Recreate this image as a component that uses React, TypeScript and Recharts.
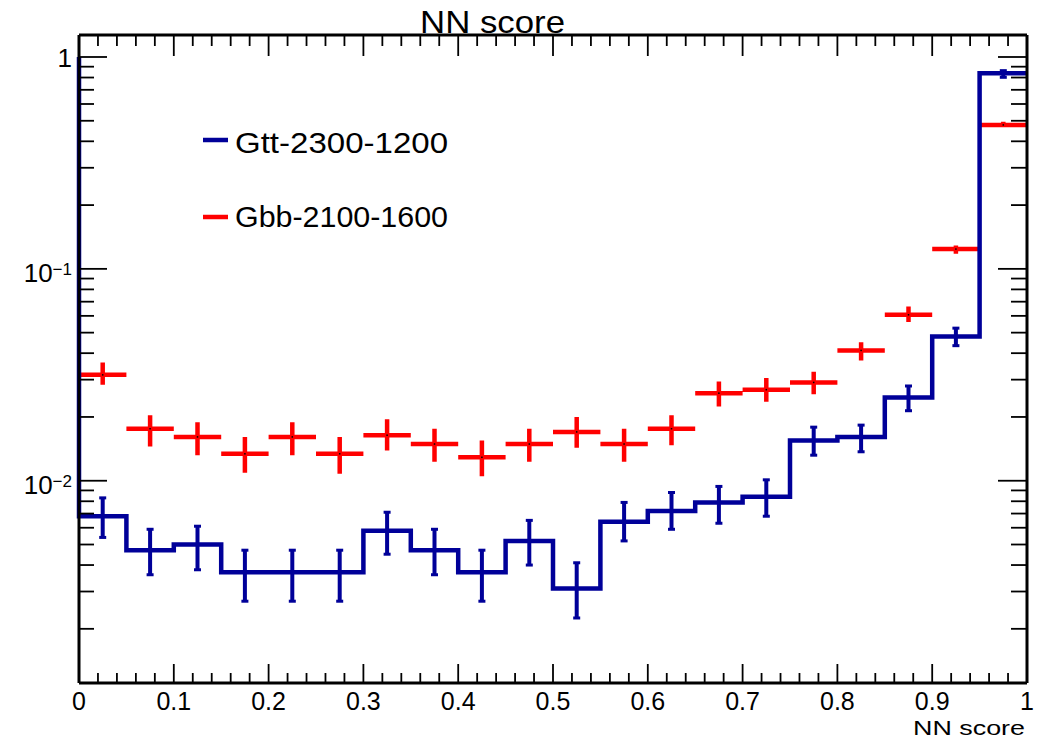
import { ComposedChart, Line, Scatter, XAxis, YAxis } from "recharts";

// NN score histograms, 20 bins of width 0.05
const binLow = [0, 0.05, 0.1, 0.15, 0.2, 0.25, 0.3, 0.35, 0.4, 0.45, 0.5, 0.55, 0.6, 0.65, 0.7, 0.75, 0.8, 0.85, 0.9, 0.95];
const binCenter = [0.025, 0.075, 0.125, 0.175, 0.225, 0.275, 0.325, 0.375, 0.425, 0.475, 0.525, 0.575, 0.625, 0.675, 0.725, 0.775, 0.825, 0.875, 0.925, 0.975];
const binWidth = 0.05;

const gttLeftEdgeTop = 1.0;
const gttValue = [0.0068, 0.0047, 0.005, 0.0037, 0.0037, 0.0037, 0.0058, 0.0047, 0.0037, 0.0052, 0.0031, 0.0064, 0.0072, 0.0079, 0.0084, 0.0155, 0.0161, 0.0247, 0.048, 0.838];
const gttLow = [0.0054, 0.0036, 0.0038, 0.0027, 0.0027, 0.0027, 0.0045, 0.0036, 0.0027, 0.004, 0.00225, 0.0052, 0.0059, 0.0063, 0.0068, 0.0132, 0.0137, 0.0214, 0.0434, 0.802];
const gttHigh = [0.0083, 0.0059, 0.0061, 0.0047, 0.0047, 0.0047, 0.0071, 0.0059, 0.0047, 0.0065, 0.0041, 0.0079, 0.0088, 0.0094, 0.0101, 0.0179, 0.0183, 0.028, 0.0525, 0.862];

const gbbValue = [0.0316, 0.0176, 0.0161, 0.0134, 0.0161, 0.0134, 0.0164, 0.0149, 0.0129, 0.0149, 0.017, 0.0149, 0.0176, 0.0259, 0.0269, 0.0291, 0.0412, 0.0607, 0.124, 0.478];
const gbbLow = [0.0284, 0.0145, 0.0132, 0.0109, 0.0132, 0.0108, 0.0139, 0.0123, 0.0105, 0.0123, 0.0143, 0.0123, 0.0147, 0.0224, 0.0236, 0.0256, 0.0369, 0.0561, 0.118, 0.469];
const gbbHigh = [0.0361, 0.0204, 0.0189, 0.0161, 0.0189, 0.0161, 0.0195, 0.0176, 0.0155, 0.0176, 0.02, 0.0176, 0.0204, 0.0294, 0.0305, 0.0327, 0.045, 0.0664, 0.129, 0.495];

const xMajorTicks = [0, 0.1, 0.2, 0.3, 0.4, 0.5, 0.6, 0.7, 0.8, 0.9, 1];
const xTickLabels = ["0", "0.1", "0.2", "0.3", "0.4", "0.5", "0.6", "0.7", "0.8", "0.9", "1"];
const yMajorTicks = [0.01, 0.1, 1];
const yTickLabels = [
  { base: "10", exp: "\u22122" },
  { base: "10", exp: "\u22121" },
  { base: "1", exp: "" },
];
const yDomain = [0.00111, 1.27];

const seriesNames = ["Gtt-2300-1200", "Gbb-2100-1600"];
const BLUE = "#000099";
const RED = "#ff0000";
const FONT = "'Liberation Sans', Arial, Helvetica, sans-serif";

// 4 minor divisions between x majors, 2..9 in every y decade
const xTicks: number[] = [];
xMajorTicks.forEach((t, i) => {
  xTicks.push(t);
  if (i < xMajorTicks.length - 1) for (let k = 1; k < 5; k++) xTicks.push(+(t + k * 0.02).toFixed(3));
});
const yTicks: number[] = [];
[0.001, 0.01, 0.1].forEach((d) => {
  for (let k = 1; k < 10; k++) {
    const v = +(d * k).toPrecision(3);
    if (v >= yDomain[0] && v <= yDomain[1]) yTicks.push(v);
  }
});
yTicks.push(1);

// histogram outline (step) and error segments, null rows break the line
const gttStep = [
  { x: 0, y: gttLeftEdgeTop },
  ...binLow.map((x, i) => ({ x, y: gttValue[i] })),
  { x: 1, y: gttValue[gttValue.length - 1] },
];
const vertSegments = (lo: number[], hi: number[]) =>
  binCenter.flatMap((x, i) => [
    { x, y: lo[i] },
    { x, y: hi[i] },
    { x, y: null },
  ]);
const gttErr = vertSegments(gttLow, gttHigh);
const gbbErr = vertSegments(gbbLow, gbbHigh);
const gbbBins = binLow.flatMap((x, i) => [
  { x, y: gbbValue[i] },
  { x: x + binWidth, y: gbbValue[i] },
  { x: x + binWidth, y: null },
]);
const gbbCenters = binCenter.map((x, i) => ({ x, y: gbbValue[i] }));

const isXMajor = (v: number) => Math.abs(v * 10 - Math.round(v * 10)) < 1e-6;
const isYMajor = (v: number) => Math.abs(Math.log10(v) - Math.round(Math.log10(v))) < 1e-6;

function BottomTick({ x, y, payload }: any) {
  const v = payload.value;
  const major = isXMajor(v);
  return (
    <g>
      <line x1={x} x2={x} y1={y} y2={y - (major ? 19 : 10)} stroke="#000" strokeWidth={1.8} />
      {major && (
        <text x={x} y={y + 27} textAnchor="middle" fontSize={25} fontFamily={FONT} fill="#000">
          {xTickLabels[Math.round(v * 10)]}
        </text>
      )}
    </g>
  );
}

function TopTick({ x, y, payload }: any) {
  const major = isXMajor(payload.value);
  return <line x1={x} x2={x} y1={y} y2={y + (major ? 21 : 11)} stroke="#000" strokeWidth={1.8} />;
}

function LeftTick({ x, y, payload }: any) {
  const v = payload.value;
  const major = isYMajor(v);
  const idx = yMajorTicks.findIndex((m) => Math.abs(m - v) < m * 1e-6);
  const lab = idx >= 0 ? yTickLabels[idx] : null;
  return (
    <g>
      <line x1={x} x2={x + (major ? 28 : 15)} y1={y} y2={y} stroke="#000" strokeWidth={1.8} />
      {lab && (
        <text x={x - 7} y={y + (lab.exp ? 13 : 10)} textAnchor="end" fontFamily={FONT} fill="#000">
          <tspan fontSize={26}>{lab.base}</tspan>
          {lab.exp && (
            <tspan fontSize={17} dy={-7}>
              {lab.exp}
            </tspan>
          )}
        </text>
      )}
    </g>
  );
}

function RightTick({ x, y, payload }: any) {
  const major = isYMajor(payload.value);
  return <line x1={x} x2={x - (major ? 29 : 16)} y1={y} y2={y} stroke="#000" strokeWidth={1.8} />;
}

const dotShape = (p: any) => <rect x={p.cx - 0.75} y={p.cy - 0.75} width={1.5} height={1.5} fill="#000" />;
const capDot = (p: any) =>
  p.cy == null || p.value == null ? (
    <g key={p.index} />
  ) : (
    <rect key={p.index} x={p.cx - 3.5} y={p.cy - 1.5} width={7} height={3} fill={BLUE} />
  );

const frame = { stroke: "#000", strokeWidth: 3 };

export default function App() {
  return (
    <div style={{ position: "absolute", left: 0, top: 0, width: 1043, height: 741, background: "#fff" }}>
      <ComposedChart width={1043} height={741} margin={{ top: 34, right: 15, bottom: 0, left: 0 }}>
        <XAxis
          xAxisId="bottom"
          type="number"
          dataKey="x"
          domain={[0, 1]}
          ticks={xTicks}
          interval={0}
          height={58}
          tickSize={0}
          tickMargin={0}
          axisLine={frame}
          tick={<BottomTick />}
        />
        <XAxis
          xAxisId="top"
          orientation="top"
          type="number"
          dataKey="x"
          domain={[0, 1]}
          allowDataOverflow
          ticks={xTicks}
          interval={0}
          height={1}
          tickSize={0}
          tickMargin={0}
          axisLine={frame}
          tick={<TopTick />}
        />
        <YAxis
          yAxisId="left"
          scale="log"
          type="number"
          dataKey="y"
          domain={yDomain}
          ticks={yTicks}
          interval={0}
          width={79}
          tickSize={0}
          tickMargin={0}
          axisLine={frame}
          tick={<LeftTick />}
        />
        <YAxis
          yAxisId="right"
          orientation="right"
          scale="log"
          type="number"
          dataKey="y"
          domain={yDomain}
          allowDataOverflow
          ticks={yTicks}
          interval={0}
          width={1}
          tickSize={0}
          tickMargin={0}
          axisLine={frame}
          tick={<RightTick />}
        />
        {/* invisible copy so the top/right frame axes have a series bound to them */}
        <Line
          data={gttStep}
          dataKey="y"
          xAxisId="top"
          yAxisId="right"
          stroke="none"
          dot={false}
          activeDot={false}
          isAnimationActive={false}
        />
        <Line
          data={gbbBins}
          dataKey="y"
          xAxisId="bottom"
          yAxisId="left"
          type="linear"
          stroke={RED}
          strokeWidth={4.5}
          dot={false}
          activeDot={false}
          connectNulls={false}
          isAnimationActive={false}
        />
        <Line
          data={gbbErr}
          dataKey="y"
          xAxisId="bottom"
          yAxisId="left"
          type="linear"
          stroke={RED}
          strokeWidth={4.5}
          dot={false}
          activeDot={false}
          connectNulls={false}
          isAnimationActive={false}
        />
        <Scatter
          name={seriesNames[1]}
          data={gbbCenters}
          dataKey="y"
          xAxisId="bottom"
          yAxisId="left"
          shape={dotShape}
          isAnimationActive={false}
        />
        <Line
          name={seriesNames[0]}
          data={gttStep}
          dataKey="y"
          xAxisId="bottom"
          yAxisId="left"
          type="stepAfter"
          stroke={BLUE}
          strokeWidth={4.5}
          dot={false}
          activeDot={false}
          isAnimationActive={false}
        />
        <Line
          data={gttErr}
          dataKey="y"
          xAxisId="bottom"
          yAxisId="left"
          type="linear"
          stroke={BLUE}
          strokeWidth={4}
          dot={capDot}
          activeDot={false}
          connectNulls={false}
          isAnimationActive={false}
        />
      </ComposedChart>
      <svg
        width={1043}
        height={741}
        style={{ position: "absolute", left: 0, top: 0, pointerEvents: "none" }}
        fontFamily={FONT}
      >
        <text x={420} y={33} fontSize={32} textLength={145} lengthAdjust="spacingAndGlyphs" fill="#000">
          NN score
        </text>
        <text x={913} y={735} fontSize={21} textLength={112} lengthAdjust="spacingAndGlyphs" fill="#000">
          NN score
        </text>
        <line x1={203} x2={228} y1={140} y2={140} stroke={BLUE} strokeWidth={4.5} />
        <text x={235} y={153} fontSize={29} textLength={213} lengthAdjust="spacingAndGlyphs" fill="#000">
          {seriesNames[0]}
        </text>
        <line x1={203} x2={228} y1={217} y2={217} stroke={RED} strokeWidth={4.5} />
        <text x={235} y={227} fontSize={29} textLength={213} lengthAdjust="spacingAndGlyphs" fill="#000">
          {seriesNames[1]}
        </text>
      </svg>
    </div>
  );
}
